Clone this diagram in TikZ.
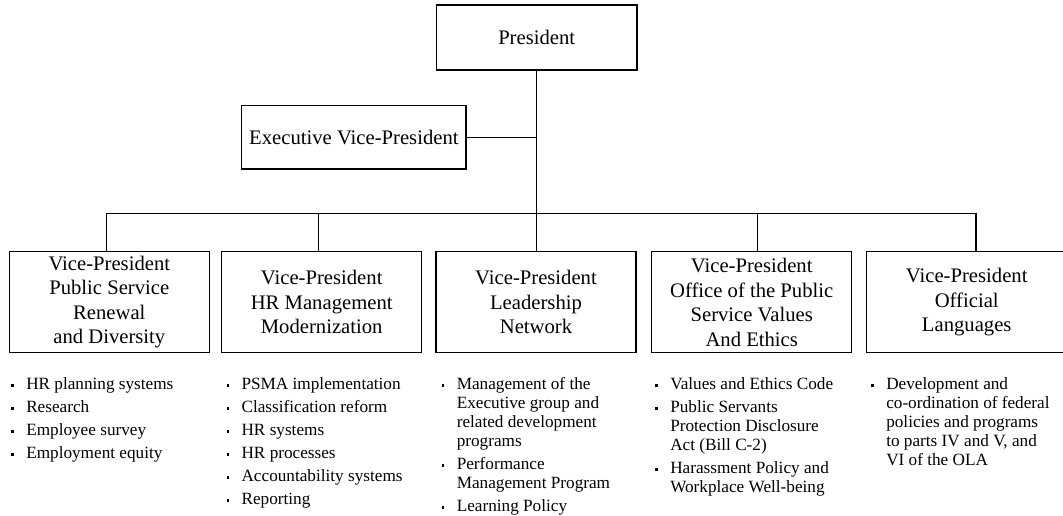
\documentclass[tikz,border=0pt]{standalone}
\usepackage{fontspec}
\setmainfont{Liberation Serif}
\tikzset{
  box/.style={draw, line width=1pt, inner sep=0pt, align=center,
    font=\fontsize{15.5}{18.4}\selectfont},
  vpbox/.style={box, minimum width=200*0.75pt, minimum height=101*0.75pt},
  conn/.style={line width=1pt},
  duties/.style={anchor=base west, inner sep=0pt,
    font=\fontsize{12.9}{14.25}\selectfont},
}
\newcommand\bul{\makebox[11.25pt][l]{\raisebox{2.2pt}{\rule{2pt}{2pt}}}}
\begin{document}
\begin{tikzpicture}[x=0.75pt, y=-0.75pt]
\useasboundingbox (0,0) rectangle (1063,516);
\clip (0,0) rectangle (1063,516);

% top boxes
\node[box, minimum width=200.4*0.75pt, minimum height=65*0.75pt] (pres) at (536.7,37.5) {President};
\node[box, minimum width=224.3*0.75pt, minimum height=63.3*0.75pt] (evp) at (353.9,137.3) {Executive Vice-President};

% vice-president boxes
\node[vpbox] (v1) at (109.3,302.2) {Vice-President\\Public Service\\Renewal\\and Diversity};
\node[vpbox] (v2) at (321.7,302.2) {Vice-President\\HR Management\\Modernization};
\node[vpbox] (v3) at (536.0,302.2) {Vice-President\\Leadership\\Network};
\node[vpbox] (v4) at (751.7,302.2) {Vice-President\\Office of the Public\\Service Values\\And Ethics};
\node[vpbox] (v5) at (966.7,302.2) {Vice-President\\Official\\Languages};

% bus coordinates
\coordinate (d1) at (106.7,213.5);
\coordinate (d2) at (318.3,213.5);
\coordinate (d4) at (757.3,213.5);
\coordinate (d5) at (976.0,213.5);

% connectors
\draw[conn] (pres.south) -- (pres.south |- v3.north);
\draw[conn] (evp.east) -- (pres.south |- evp.east);
\draw[conn] (d1) -- (d5);
\draw[conn] (d1) -- (d1 |- v1.north);
\draw[conn] (d2) -- (d2 |- v2.north);
\draw[conn] (d4) -- (d4 |- v4.north);
\draw[conn] (d5) -- (d5 |- v5.north);

% duty lists
\node[duties] (l1) at (11,389.5) {\begin{tabular}[t]{@{}l@{}l@{}}
\bul & HR planning systems\\[3pt]
\bul & Research\\[3pt]
\bul & Employee survey\\[3pt]
\bul & Employment equity
\end{tabular}};
\node[duties] (l2) at (226.3,389.5) {\begin{tabular}[t]{@{}l@{}l@{}}
\bul & PSMA implementation\\[3pt]
\bul & Classification reform\\[3pt]
\bul & HR systems\\[3pt]
\bul & HR processes\\[3pt]
\bul & Accountability systems\\[3pt]
\bul & Reporting
\end{tabular}};
\node[duties] (l3) at (441.5,389.5) {\begin{tabular}[t]{@{}l@{}l@{}}
\bul & Management of the\\
 & Executive group and\\
 & related development\\
 & programs\\[3pt]
\bul & Performance\\
 & Management Program\\[3pt]
\bul & Learning Policy
\end{tabular}};
\node[duties] (l4) at (655,389.5) {\begin{tabular}[t]{@{}l@{}l@{}}
\bul & Values and Ethics Code\\[3pt]
\bul & Public Servants\\
 & Protection Disclosure\\
 & Act (Bill C-2)\\[3pt]
\bul & Harassment Policy and\\
 & Workplace Well-being
\end{tabular}};
\node[duties] (l5) at (871,389.5) {\begin{tabular}[t]{@{}l@{}l@{}}
\bul & Development and\\
 & co-ordination of federal\\
 & policies and programs\\
 & to parts IV and V, and\\
 & VI of the OLA
\end{tabular}};
\end{tikzpicture}
\end{document}
